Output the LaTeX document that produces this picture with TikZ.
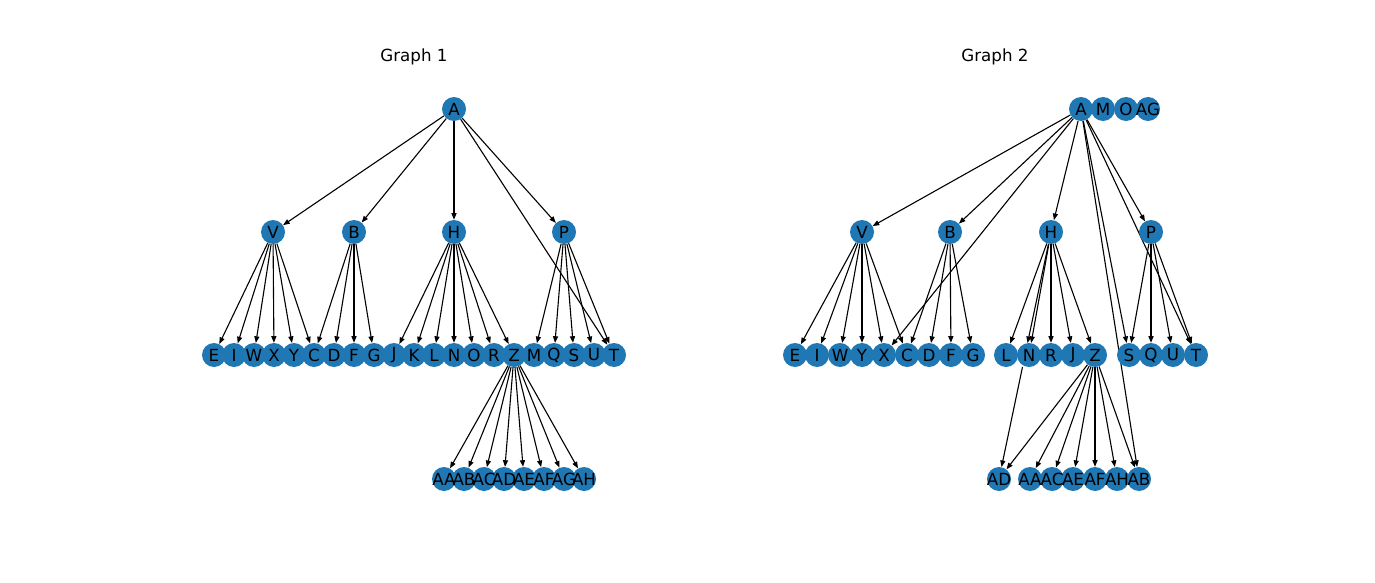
\documentclass[tikz,border=0pt]{standalone}
\usepackage{fontspec}
\setmainfont{DejaVu Sans}
\usetikzlibrary{arrows.meta}
\definecolor{nxblue}{HTML}{1F77B4}
\pgfdeclarelayer{bg}
\pgfdeclarelayer{fg}
\pgfsetlayers{bg,main,fg}
\newcommand\vx[4]{%
  \node[vtx] (#1) at (#2,#3) {};%
  \begin{pgfonlayer}{fg}\node[lbl] (#1t) at (#2,#3) {#4};\end{pgfonlayer}}
\begin{document}
\begin{tikzpicture}[x=1pt,y=-1pt,
  vtx/.style={circle,fill=nxblue,minimum size=24pt,inner sep=0pt},
  ghost/.style={circle,minimum size=24pt,inner sep=0pt},
  lbl/.style={inner sep=0pt,text=black,font=\fontsize{16.7}{20}\selectfont},
  ttl/.style={inner sep=0pt,text=black,font=\fontsize{16.7}{20}\selectfont},
  edg/.style={-{Triangle[length=6.6pt,width=5pt]},line width=1.1pt,black}]
\useasboundingbox (0,0) rectangle (1375,583);
% titles
\node[ttl] (t1) at (414,57) {Graph 1};
\node[ttl] (t2) at (995,57) {Graph 2};
% ---------- Graph 1 ----------
\vx{aA}{454}{109}{A}
\vx{aV}{273}{232}{V}
\vx{aB}{354}{232}{B}
\vx{aH}{454}{232}{H}
\vx{aP}{564}{232}{P}
\foreach \n/\x in {E/214,I/234,W/254,X/274,Y/294,C/314,D/334,F/354,G/374,J/394,K/414,L/434,N/454,O/474,R/494,Z/514,M/534,Q/554,S/574,U/594,T/614}
  {\vx{a\n}{\x}{355}{\n}}
\foreach \n/\x in {AA/444,AB/464,AC/484,AD/504,AE/524,AF/544,AG/564,AH/584}
  {\vx{a\n}{\x}{479}{\n}}
% ---------- Graph 2 ----------
\vx{bA}{1081}{109}{A}
\vx{bM}{1103}{109}{M}
\vx{bO}{1126}{109}{O}
\vx{bAG}{1148}{109}{AG}
\vx{bV}{862}{232}{V}
\vx{bB}{950}{232}{B}
\vx{bH}{1051}{232}{H}
\vx{bP}{1151}{232}{P}
\node[ghost] (bK) at (1025,355) {};
\foreach \n/\x in {E/795,I/817,W/840,Y/862,X/884,C/907,D/929,F/951,G/973,L/1006,N/1029,R/1051,J/1073,Z/1095,S/1129,Q/1151,U/1173,T/1196}
  {\vx{b\n}{\x}{355}{\n}}
\foreach \n/\x in {AD/999,AA/1030,AC/1052,AE/1073,AF/1095,AH/1117,AB/1139}
  {\vx{b\n}{\x}{479}{\n}}
% ---------- edges ----------
\begin{pgfonlayer}{bg}
\foreach \s/\t in {aA/aV,aA/aB,aA/aH,aA/aP,aA/aT,
  aV/aE,aV/aI,aV/aW,aV/aX,aV/aY,aV/aC,
  aB/aC,aB/aD,aB/aF,aB/aG,
  aH/aJ,aH/aK,aH/aL,aH/aN,aH/aO,aH/aR,aH/aZ,
  aP/aM,aP/aQ,aP/aS,aP/aU,aP/aT,
  aZ/aAA,aZ/aAB,aZ/aAC,aZ/aAD,aZ/aAE,aZ/aAF,aZ/aAG,aZ/aAH,
  bA/bV,bA/bB,bA/bX,bA/bH,bA/bS,bA/bAB,bA/bT,bA/bP,
  bV/bE,bV/bI,bV/bW,bV/bY,bV/bX,bV/bC,
  bB/bC,bB/bD,bB/bF,bB/bG,
  bH/bL,bH/bN,bH/bK,bH/bR,bH/bJ,bH/bZ,
  bK/bAD,
  bP/bS,bP/bQ,bP/bU,bP/bT,
  bZ/bAD,bZ/bAA,bZ/bAC,bZ/bAE,bZ/bAF,bZ/bAH,bZ/bAB}
  {\draw[edg] (\s) -- (\t);}
\end{pgfonlayer}
\end{tikzpicture}
\end{document}
